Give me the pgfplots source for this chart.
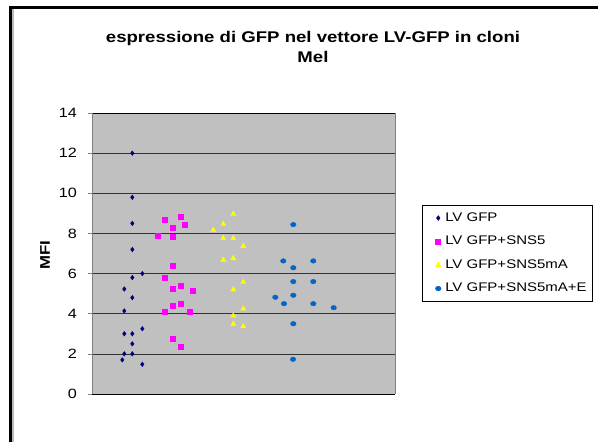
\documentclass[border=0pt]{standalone}
\usepackage{pgfplots}
\pgfplotsset{compat=1.18}
\usepackage{fontspec}
\setmainfont[FakeStretch=1.2]{Liberation Sans}
\definecolor{plotgrey}{RGB}{192,192,192}
\definecolor{navy}{RGB}{0,0,128}
\definecolor{mag}{RGB}{255,0,255}
\definecolor{yel}{RGB}{255,255,0}
\definecolor{blu}{RGB}{0,102,204}
\begin{document}
\begin{tikzpicture}
\useasboundingbox (0pt,0pt) rectangle (598pt,442pt);
\fill[white] (0pt,0pt) rectangle (598pt,442pt);
\draw[gray!55,line width=1.2pt] (13pt,0pt) -- (13pt,433pt);
\draw[black,line width=2.2pt] (10.5pt,0pt) -- (10.5pt,434.5pt) -- (598pt,434.5pt);
\node[font=\fontsize{15.5}{18}\selectfont\bfseries,anchor=base] at (313pt,399.3pt) {espressione di GFP nel vettore LV-GFP in cloni};
\node[font=\fontsize{15.5}{18}\selectfont\bfseries,anchor=base] at (313pt,379pt) {Mel};
\begin{axis}[
  at={(92pt,48pt)}, anchor=south west,
  scale only axis, width=303pt, height=281pt,
  xmin=0, xmax=303, ymin=0, ymax=14,
  ytick={0,2,...,14}, xtick=\empty,
  axis background/.style={fill=plotgrey},
  ymajorgrids, grid style={black!80,line width=0.5pt},
  separate axis lines,
  x axis line style={black,line width=0.8pt},
  y axis line style={gray,line width=0.8pt},
  tick align=outside, ytick pos=left, major tick length=4pt,
  tick style={gray,line width=0.6pt},
  /pgf/number format/assume math mode=true,
  yticklabel style={font=\fontsize{13.5}{14}\selectfont,inner sep=0pt,xshift=-11pt},
  ylabel={MFI},
  ylabel style={font=\fontsize{14}{14}\selectfont\bfseries,at={(axis description cs:-0.155,0.495)},anchor=center},
  legend style={at={(rel axis cs:1.089,0.6726)},anchor=north west,draw=black,line width=0.6pt,
    inner xsep=4pt,inner ysep=1pt,font=\fontsize{12.5}{14}\selectfont,
    nodes={text height=9pt,text depth=2.5pt,inner ysep=6pt,inner xsep=2pt}},
  legend cell align=left,
  legend image code/.code={\path[draw=none,fill=none] (-12pt,0pt) rectangle (5pt,0.1pt); \draw[#1] plot coordinates {(0pt,0pt)};},
  /tikz/every even column/.append style={column sep=0pt},
]
\addplot[only marks,mark=diamond*,color=navy,mark size=2.3pt] coordinates {
(40.3,12.0)(40.3,9.8)(40.3,8.5)(40.3,7.2)(40.3,5.8)(50.3,6.0)(32.3,5.23)(40.3,4.8)(32.3,4.14)(50.3,3.25)(32.3,3.0)(40.3,3.0)(40.3,2.5)(32.3,2.0)(40.3,2.0)(30.3,1.7)(50.3,1.48)};
\addlegendentry{LV GFP}
\addplot[only marks,mark=square*,color=mag,mark size=2.5pt] coordinates {
(65.3,7.9)(72.7,8.7)(81,8.3)(81,7.82)(88.7,8.83)(93,8.44)(81,6.39)(72.7,5.8)(81,5.25)(88.7,5.4)(101,5.15)(81,4.42)(88.7,4.52)(72.7,4.09)(98,4.09)(81,2.77)(88.7,2.38)};
\addlegendentry{LV GFP+SNS5}
\addplot[only marks,mark=triangle*,color=yel,mark size=3pt] coordinates {
(141.3,8.97)(131.3,8.47)(121.3,8.17)(131.3,7.76)(141.3,7.76)(151.3,7.37)(131.3,6.68)(141.3,6.76)(151.3,5.58)(141.3,5.2)(151.3,4.25)(141.3,3.9)(141.3,3.49)(151.3,3.37)};
\addlegendentry{LV GFP+SNS5mA}
\addplot[only marks,mark=*,color=blu,mark size=2.3pt,mark options={xscale=1.2}] coordinates {
(201.3,8.44)(191.3,6.63)(221.3,6.63)(201.3,6.29)(201.3,5.6)(221.3,5.6)(183.3,4.82)(201.3,4.92)(192,4.5)(221.3,4.5)(241.7,4.3)(201.3,3.5)(201,1.73)};
\addlegendentry{LV GFP+SNS5mA+E}
\end{axis}
\end{tikzpicture}
\end{document}
